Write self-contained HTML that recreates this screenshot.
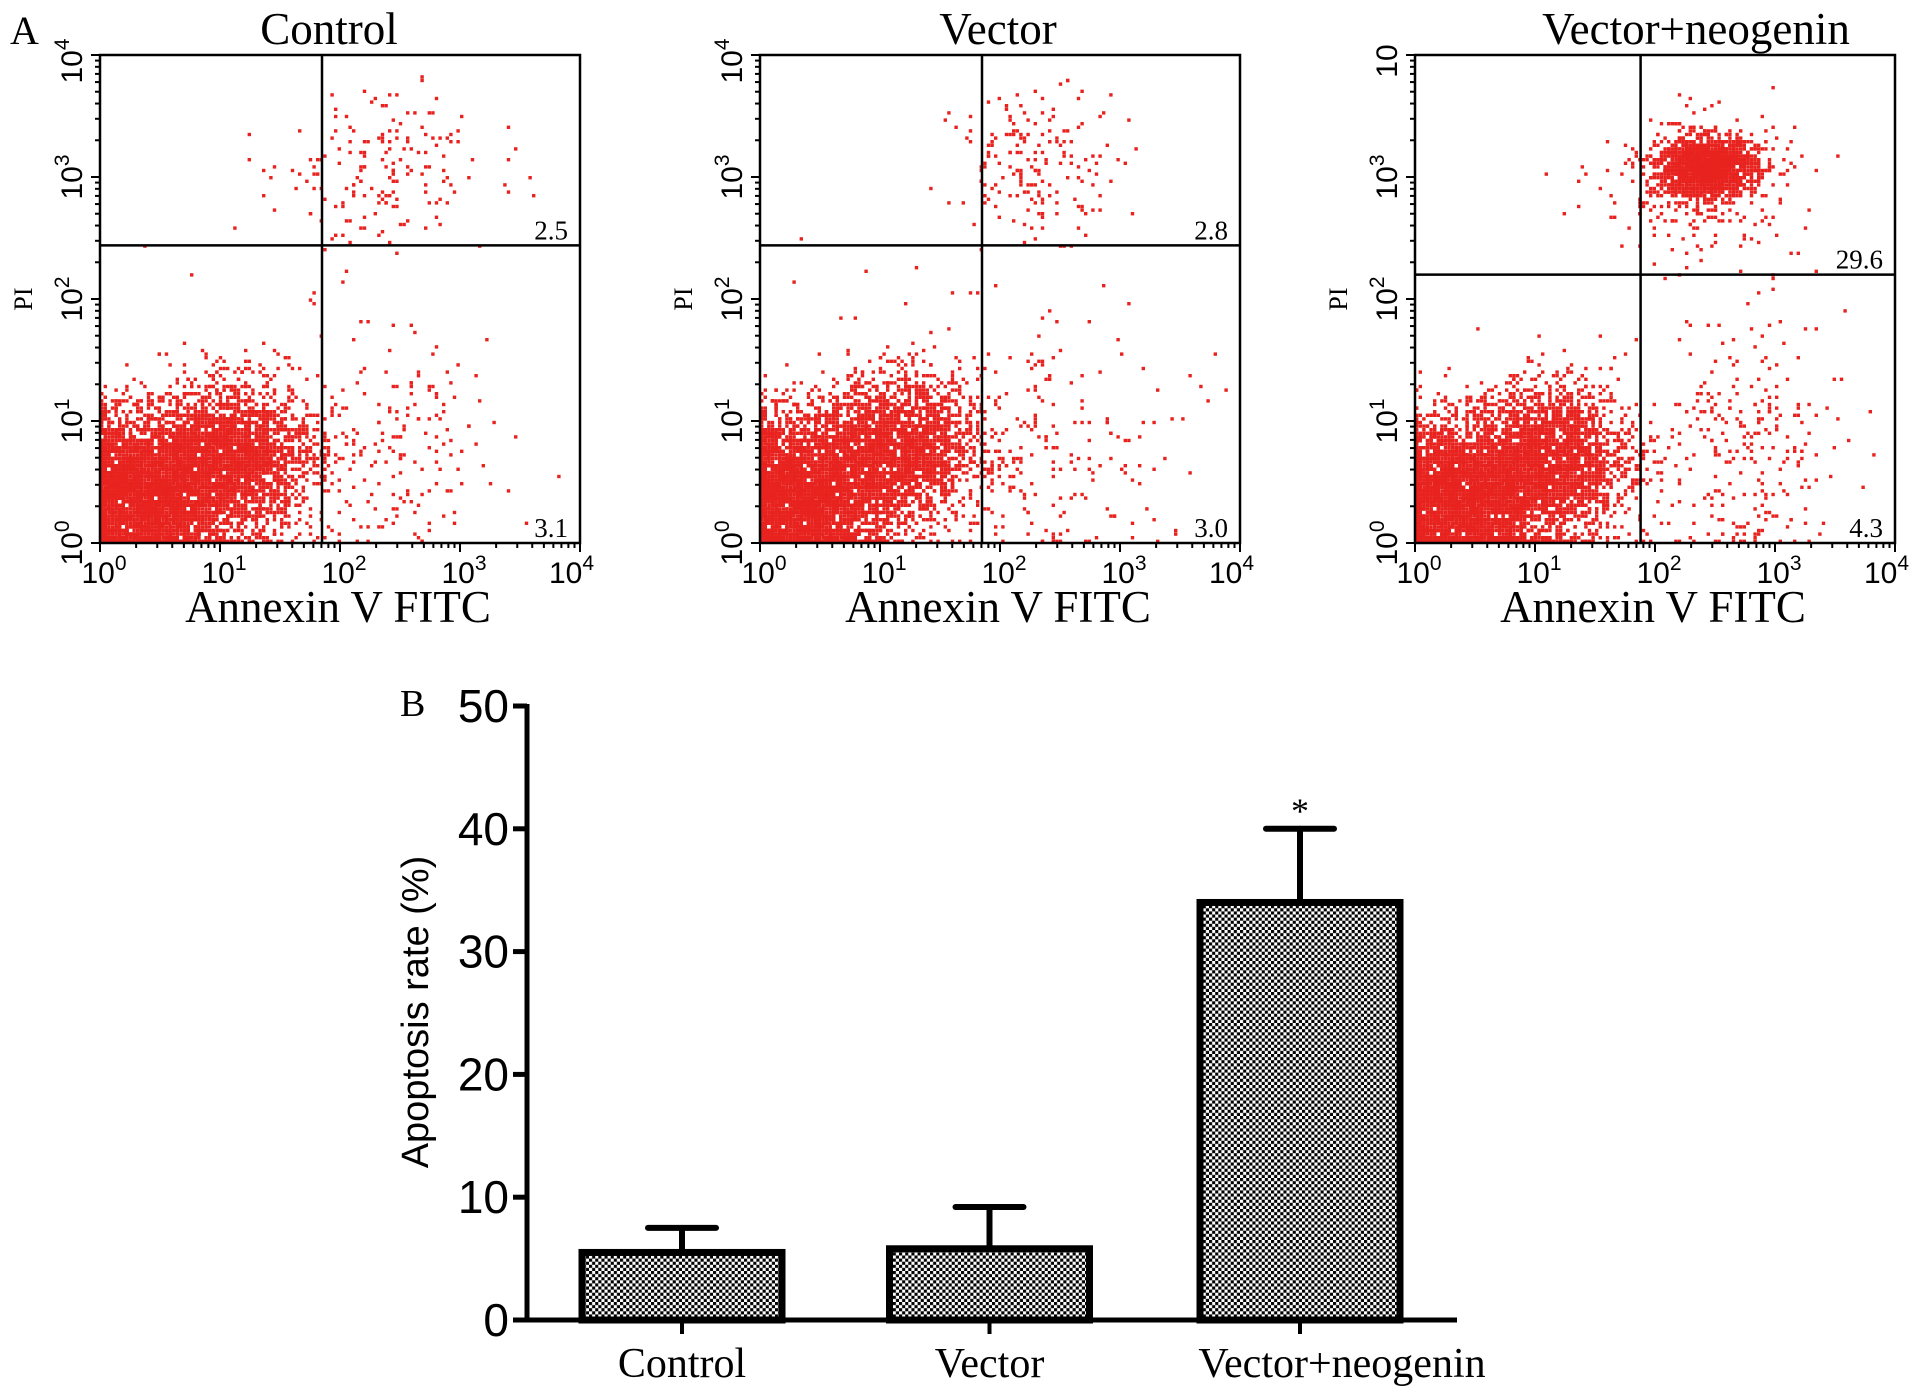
<!DOCTYPE html>
<html><head><meta charset="utf-8"><style>
html,body{margin:0;padding:0;background:#fff}
svg{display:block}
text{font-family:"Liberation Serif",serif;fill:#000}
.sans{font-family:"Liberation Sans",sans-serif}
</style></head><body>
<svg id="fig" width="1913" height="1391" viewBox="0 0 1913 1391">
<defs>
<pattern id="chk" width="6.2" height="6.2" patternUnits="userSpaceOnUse">
<rect width="6.2" height="6.2" fill="#fff"/>
<rect x="0" y="0" width="3.1" height="3.1" fill="#000"/>
<rect x="3.1" y="3.1" width="3.1" height="3.1" fill="#000"/>
</pattern>
</defs>
<text x="10" y="44" font-size="40">A</text>
<text x="400" y="716" font-size="38">B</text>
<g id="flow"></g>
<g id="bars"></g>
</svg>
<script>
// ---- Flow cytometry panels ----
const panelTitles = ["Control", "Vector", "Vector+neogenin"];
const urPercent = ["2.5", "2.8", "29.6"];
const lrPercent = ["3.1", "3.0", "4.3"];
const gateX = [1.85, 1.85, 1.88];   // log10 Annexin gate
const gateY = [2.44, 2.44, 2.2];    // log10 PI gate
const yTopLabel = [["10","4"],["10","4"],["10",""]];
// clusters: [cx, cy, sdx, sdy, n] in log10 units
const clustersControl = [[0.35,0.4,0.35,0.32,4200],[1.1,0.7,0.34,0.3,2200],[2.35,3.05,0.42,0.32,170],[2.4,0.75,0.5,0.5,190],[1.4,2.6,0.6,0.5,14]];
const clustersVector = [[0.35,0.4,0.35,0.32,4200],[1.15,0.75,0.34,0.3,2200],[2.3,3.1,0.35,0.3,180],[2.4,0.8,0.55,0.55,190],[1.3,1.8,0.5,0.5,16]];
const clustersNeo = [[0.4,0.38,0.37,0.3,3800],[1.15,0.68,0.32,0.3,2000],[2.42,3.07,0.2,0.12,1700],[2.35,2.9,0.42,0.3,260],[2.7,0.8,0.42,0.5,260]];
const clusterSets = [clustersControl, clustersVector, clustersNeo];
const titleOffset = [-11, -2, 41];
const boxL = [100, 760, 1415], boxW = 480, boxT = 55, boxH = 488;

let seed = 12345;
function rnd(){ seed = (seed*1103515245 + 12345) % 2147483648; return seed/2147483648; }
function gauss(){ let u=rnd()||1e-6, v=rnd(); return Math.sqrt(-2*Math.log(u))*Math.cos(2*Math.PI*v); }

const NS = "http://www.w3.org/2000/svg";
function el(tag, attrs, parent){ const e=document.createElementNS(NS,tag); for(const k in attrs) e.setAttribute(k,attrs[k]); parent.appendChild(e); return e; }
const flow = document.getElementById("flow");

function tickLabel(g, x, y, base, exp, rotate, anchor){
  const t = el("text",{x:x,y:y,"font-size":"30","text-anchor":anchor||"middle"},g);
  if(rotate) t.setAttribute("transform","rotate(-90 "+x+" "+y+")");
  t.setAttribute("class","sans");
  t.appendChild(document.createTextNode(base));
  if(exp){ const s=el("tspan",{dy:"-13","font-size":"21"},t); s.textContent=exp; }
  return t;
}

for(let p=0;p<3;p++){
  const L=boxL[p], T=boxT, W=boxW, H=boxH;
  const sx = v => L + v/4*W, sy = v => T+H - v/4*H;
  const g = el("g",{},flow);
  
  
  const title = el("text",{x:L+W/2+titleOffset[p],y:44,"font-size":"45","text-anchor":"middle"},g);
  title.textContent = panelTitles[p];
  
  
  const pts = el("g",{fill:"#e8231f"},g);
  
  
  const cl = clusterSets[p];
  seed = 777 + p*101;
  const step = 3.6;
  for(const c of cl){
    for(let i=0;i<c[4];i++){
      let x = c[0]+gauss()*c[2], y = c[1]+gauss()*c[3];
      if(x<0) x = rnd()<0.5?0:-x*0.3;
      if(y<0) y = rnd()<0.5?0:-y*0.3;
      if(x>4||y>4) continue;
      let px = sx(x), py = sy(y);
      px = L + Math.round((px-L)/step)*step; py = T+H - Math.round((T+H-py)/step)*step;
      if(px>L+W-3.4) px=L+W-3.4; if(py<T+3.4) py=T+3.4;
      el("rect",{x:px.toFixed(1),y:(py-3.4).toFixed(1),width:"3.4",height:"3.4"},pts);
    }
  }
  const box = el("rect",{x:L,y:T,width:W,height:H,fill:"none",stroke:"#000","stroke-width":"2.5"},g);
  
  
  const gv = el("line",{x1:sx(gateX[p]),x2:sx(gateX[p]),y1:T,y2:T+H,stroke:"#000","stroke-width":"2.5"},g);
  
  
  const gh = el("line",{x1:L,x2:L+W,y1:sy(gateY[p]),y2:sy(gateY[p]),stroke:"#000","stroke-width":"2.5"},g);
  
  
  const ur = el("text",{x:L+W-12,y:sy(gateY[p])-6,"font-size":"27","text-anchor":"end"},g);
  ur.textContent = urPercent[p];
  
  
  const lr = el("text",{x:L+W-12,y:T+H-6,"font-size":"27","text-anchor":"end"},g);
  lr.textContent = lrPercent[p];
  
  
  const tk = el("g",{stroke:"#000","stroke-width":"2"},g);
  
  
  for(let d=0; d<4; d++){
    for(let m=1;m<=10;m++){
      const v = d+Math.log10(m); const len = (m===1||m===10)?9:5;
      el("line",{x1:sx(v),x2:sx(v),y1:T+H,y2:T+H+len},tk);
      el("line",{x1:L,x2:L-len,y1:sy(v),y2:sy(v)},tk);
    }
  }
  for(let d=0; d<=4; d++){
    const last = (d===4);
    const xl = tickLabel(g, last ? sx(d)+14 : sx(d)+4, T+H+40, "10", String(d), false, last ? "end" : "middle");
    
    
    const yb = last ? yTopLabel[p] : ["10", String(d)];
    const yl = tickLabel(g, L-18, sy(d)+(last?6:0), yb[0], yb[1], true);
    
    
  }
  const xt = el("text",{x:L+W/2-2,y:622,"font-size":"45","text-anchor":"middle"},g);
  xt.textContent = "Annexin V FITC";
  
  
  const yt = el("text",{x:L-68,y:sy(2),"font-size":"26","text-anchor":"middle",transform:"rotate(-90 "+(L-68)+" "+sy(2)+")"},g);
  yt.textContent = "PI";
  
  
}

// ---- Bar chart ----
const categories = ["Control", "Vector", "Vector+neogenin"];
const meanValues = [5.5, 5.8, 34];
const errorTops = [7.5, 9.2, 40];
const yTicks = [0, 10, 20, 30, 40, 50];
const labelShift = [0, 0, 42];
const bars = document.getElementById("bars");
const ax0 = 527, ay0 = 1320, ayTop = 706, axEnd = 1457;
const yS = v => ay0 - v/50*(ay0-ayTop);
const barCenters = [682, 989.5, 1300], barW = 206;

for(let i=0;i<categories.length;i++){
  const cx = barCenters[i];
  const eb = el("g",{stroke:"#000","stroke-width":"6","stroke-linecap":"round"},bars);
  
  
  el("line",{x1:cx,x2:cx,y1:yS(meanValues[i]),y2:yS(errorTops[i])},eb);
  el("line",{x1:cx-34,x2:cx+34,y1:yS(errorTops[i]),y2:yS(errorTops[i])},eb);
  const r = el("rect",{x:cx-barW/2+3,y:yS(meanValues[i]),width:barW-6,height:ay0-yS(meanValues[i]),fill:"url(#chk)",stroke:"#000","stroke-width":"7"},bars);
  
  
  const tick = el("line",{x1:cx,x2:cx,y1:ay0,y2:ay0+14,stroke:"#000","stroke-width":"4"},bars);
  
  
  const lb = el("text",{x:cx+labelShift[i],y:1377,"font-size":"42","text-anchor":"middle"},bars);
  lb.textContent = categories[i];
  
  
}
const star = el("text",{x:barCenters[2],y:yS(errorTops[2])-6,"font-size":"36","text-anchor":"middle"},bars);
star.textContent = "*";


const axes = el("g",{stroke:"#000","stroke-width":"5"},bars);


el("line",{x1:ax0,x2:ax0,y1:ayTop-2,y2:ay0+2},axes);
el("line",{x1:ax0-14,x2:axEnd,y1:ay0,y2:ay0},axes);
for(const t of yTicks){
  el("line",{x1:ax0-14,x2:ax0,y1:yS(t),y2:yS(t)},axes);
  const tl = el("text",{x:ax0-18,y:yS(t)+16,"font-size":"46","text-anchor":"end","class":"sans"},bars);
  tl.setAttribute("style","font-family:'Liberation Sans Narrow','Liberation Sans',sans-serif");
  tl.textContent = String(t);
  
  
}
const ytitle = el("text",{x:428,y:1012,"font-size":"38","text-anchor":"middle",transform:"rotate(-90 428 1012)","class":"sans"},bars);
ytitle.textContent = "Apoptosis rate (%)";


</script>
</body></html>
